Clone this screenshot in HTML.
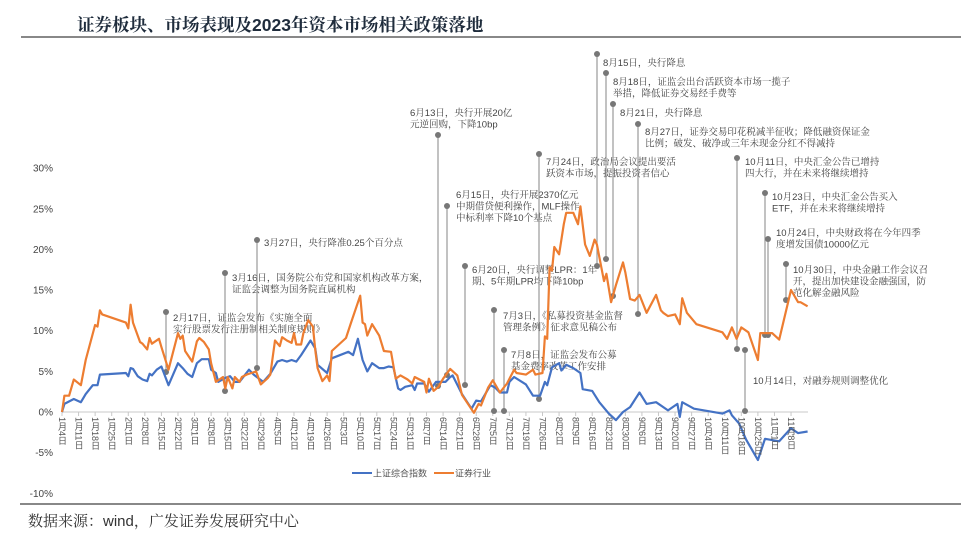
<!DOCTYPE html>
<html><head><meta charset="utf-8">
<style>
html,body{margin:0;padding:0;background:#fff;}
body{width:961px;height:538px;position:relative;overflow:hidden;font-family:"Liberation Sans","Noto Sans CJK SC",sans-serif;}
#title{position:absolute;left:77px;top:12px;font-family:"Liberation Sans","Noto Serif CJK SC",serif;font-weight:700;font-size:17.5px;color:#1f2c3c;letter-spacing:0px;white-space:nowrap;}
.rule{position:absolute;height:2px;background:#888;}
#source{position:absolute;left:28px;top:510px;font-family:"Liberation Sans","Noto Serif CJK SC",serif;font-size:15px;color:#333;white-space:nowrap;}
.xl{position:absolute;top:417px;writing-mode:vertical-rl;text-orientation:mixed;font-size:9px;line-height:10px;color:#555;font-family:"Liberation Sans","Noto Sans CJK SC",sans-serif;}
</style></head>
<body>
<div id="title">证券板块、市场表现及2023年资本市场相关政策落地</div>
<div class="rule" style="left:21px;top:36px;width:940px;"></div>
<div class="rule" style="left:20px;top:503px;width:941px;"></div>
<div id="source">数据来源：wind，广发证券发展研究中心</div>
<svg id="chart" width="961" height="538" style="position:absolute;left:0;top:0"></svg>
<div id="xlabels"></div>
<script>
const yTicks=[30,25,20,15,10,5,0,-5,-10];
const tickLabels=["1月4日","1月11日","1月18日","1月25日","2月1日","2月8日","2月15日","2月22日","3月1日","3月8日","3月15日","3月22日","3月29日","4月5日","4月12日","4月19日","4月26日","5月3日","5月10日","5月17日","5月24日","5月31日","6月7日","6月14日","6月21日","6月28日","7月5日","7月12日","7月19日","7月26日","8月2日","8月9日","8月16日","8月23日","8月30日","9月6日","9月13日","9月20日","9月27日","10月4日","10月11日","10月18日","10月25日","11月1日","11月8日"];
const secDays=[0,1,3,5,8,10,14,15,16,17,27,28,29,30,33,34,36,37,38,41,42,45,49,50,51,52,55,57,58,60,62,63,65,68,69,70,72,73,75,76,78,80,82,84,87,88,90,92,93,95,97,98,99,101,102,104,106,107,108,110,112,113,114,120,122,126,127,128,129,131,134,136,139,141,143,146,148,149,153,154,155,157,159,161,164,167,169,174,176,177,180,182,185,188,191,192,196,199,200,203,204,205,206,207,208,210,212,213,216,218,219,221,223,225,226,229,230,232,234,237,238,240,242,244,247,251,253,254,256,259,261,262,264,268,279,281,283,285,287,290,294,295,300,303,308,311,312,315];
const secVals=[0,2,2,4,3.3,6.4,10.7,10.5,12.5,12,11,10.3,13.2,11,8.6,8.4,7.7,9.1,8.4,9,8,5.2,9.7,9,9.4,7.5,6.2,8.7,9.1,8.6,7.7,6,3.7,4.3,2.9,4.3,2.9,4.3,3.7,4.3,4.6,4.8,5,3.4,4.2,4.6,8.8,8.1,9.2,8.8,8.5,9.7,8.3,8.3,9.7,11.3,10.5,7.6,5.4,3.8,4.5,3.8,7.5,9.1,10.9,14.3,11,10.8,9.4,10.8,9.4,7.5,7.4,4.1,4.5,4,3.5,4.3,3.7,2.4,4.1,2.6,3.1,4.1,5.3,4.5,2.1,-0.1,1,0.8,3,3.9,2.4,3.5,5.2,4.8,4.6,5.2,4.6,4.8,9.3,9,17.8,17.4,20.3,19.4,23.1,24.5,24.5,23.1,25.3,20.6,19.2,21.2,20.6,16.1,17,13.5,15.6,18.4,17.2,13.9,13.7,14.4,12.2,14.4,12.5,12.2,11.8,12,10.8,14,12.2,10.8,9.8,9,10.4,9,10.4,9.8,6.4,9.7,9.7,8.9,15,13.5,13.5,13];
const shDays=[0,1,5,8,10,13,15,16,27,28,29,30,32,34,36,37,38,40,42,45,49,51,53,55,57,59,62,63,65,66,69,71,73,75,79,81,85,88,91,93,95,97,99,101,105,107,108,112,114,121,123,125,127,129,131,134,136,138,140,142,143,145,148,149,150,153,155,158,162,164,165,169,173,175,177,181,183,185,188,189,191,196,199,202,204,205,207,210,211,213,216,219,220,224,227,231,234,237,240,244,247,251,256,260,261,262,267,279,282,283,286,289,294,297,303,308,311,315];
const shVals=[0,1,1.6,1.2,2.2,3.3,3.3,4.6,4.8,4.4,5.4,5.3,4.4,4,3.8,4.7,4.5,5.2,5.6,3.3,6,5.4,4.7,4.3,6,6.5,6.5,5.2,4.8,3.7,4.2,4.4,3.7,3.7,5.2,4.6,3.7,4.7,6.2,6.4,6.2,6.4,6.2,7,8.8,7.8,5.8,4.8,6.6,7.4,7,9,6.4,5,6,5.4,5.4,5.6,5.5,2.9,2.7,3.1,3.3,2.7,3.5,3.5,2.5,3.7,3.7,4.3,4.5,2.2,0.4,1.4,1.3,3.3,3,2.4,2.4,3.7,4.3,3.4,2,2,3.7,3.3,5.5,6,5.1,5.8,5.4,4.8,2.8,2.6,1.2,-0.2,-1,0,0.6,2.4,1,1.2,0.2,1,-0.6,1.2,0.4,-0.2,0.2,-0.4,-1.4,-3.4,-5.9,-3.3,-3.6,-2,-2.6,-2.4];

const NS="http://www.w3.org/2000/svg";
const svg=document.getElementById('chart');
const xPx=d=>62+d*2.367;
const yPx=v=>412-v*8.13;
function mk(tag,attrs,parent){const e=document.createElementNS(NS,tag);for(const k in attrs)e.setAttribute(k,attrs[k]);(parent||svg).appendChild(e);return e;}

yTicks.forEach(t=>{
  const tx=mk('text',{x:53,y:yPx(t)+3.5,'text-anchor':'end','font-size':'10','fill':'#444','font-family':'Liberation Sans, sans-serif'});
  tx.textContent=t+'%';
  
  
});
const ax=mk('line',{x1:62,x2:808,y1:412,y2:412,stroke:'#c8c8c8','stroke-width':1});


const xl=document.getElementById('xlabels');
tickLabels.forEach((lab,i)=>{
  const x=xPx(i*7);
  const tk=mk('line',{x1:x,x2:x,y1:412,y2:416,stroke:'#c8c8c8','stroke-width':1});
  
  
  const d=document.createElement('div');
  d.className='xl';d.style.left=(x-5)+'px';d.textContent=lab;
  
  
  xl.appendChild(d);
});

function series(days,vals,color,name){
  const p=days.map((d,i)=>(i?'L':'M')+xPx(d).toFixed(1)+','+yPx(vals[i]).toFixed(1)).join('');
  const e=mk('path',{d:p,fill:'none',stroke:color,'stroke-width':2.2,'stroke-linejoin':'round'});
  
  
}

const ann=[
 [166,312,372,173,321,["2月17日，证监会发布《实施全面","实行股票发行注册制相关制度规则》"]],
 [225,273,391,232,281,["3月16日，国务院公布党和国家机构改革方案，","证监会调整为国务院直属机构"]],
 [257,240,368,264,246,["3月27日，央行降准0.25个百分点"]],
 [438,135,386,410,116,["6月13日，央行开展20亿","元逆回购，下降10bp"]],
 [447,206,375,456,198,["6月15日，央行开展2370亿元","中期借贷便利操作，MLF操作","中标利率下降10个基点"]],
 [465,266,385,472,273,["6月20日，央行调整LPR：1年","期、5年期LPR均下降10bp"]],
 [494,310,411,503,319,["7月3日，《私募投资基金监督","管理条例》征求意见稿公布"]],
 [504,350,411,511,358,["7月8日，证监会发布公募","基金费率改革工作安排"]],
 [539,154,399,546,165,["7月24日，政治局会议提出要活","跃资本市场，提振投资者信心"]],
 [597,54,266,603,66,["8月15日，央行降息"]],
 [606,73,259,613,85,["8月18日，证监会出台活跃资本市场一揽子","举措，降低证券交易经手费等"]],
 [613,104,296,620,116,["8月21日，央行降息"]],
 [638,124,314,645,135,["8月27日，证券交易印花税减半征收；降低融资保证金","比例；破发、破净或三年未现金分红不得减持"]],
 [737,158,349,745,165,["10月11日，中央汇金公告已增持","四大行，并在未来将继续增持"]],
 [745,350,411,753,384,["10月14日，对融券规则调整优化"]],
 [765,193,335,772,200,["10月23日，中央汇金公告买入","ETF，并在未来将继续增持"]],
 [768,239,335,776,236,["10月24日，中央财政将在今年四季","度增发国债10000亿元"]],
 [786,264,300,793,273,["10月30日，中央金融工作会议召","开，提出加快建设金融强国，防","范化解金融风险"]]
];
ann.forEach(a=>{
  const g=mk('g',{});
  
  
  mk('line',{x1:a[0],x2:a[0],y1:a[1],y2:a[2],stroke:'#999','stroke-width':1.2},g);
  mk('circle',{cx:a[0],cy:a[1],r:3,fill:'#777'},g);
  mk('circle',{cx:a[0],cy:a[2],r:3,fill:'#777'},g);
  a[5].forEach((t,i)=>{
    const tx=mk('text',{x:a[3],y:a[4]+i*11.5,'font-size':'9.5','fill':'#444','font-family':'Liberation Sans, Noto Serif CJK SC, serif'},g);
    tx.textContent=t;
  });
});

series(shDays,shVals,'#4472c4','series-shanghai-composite');
series(secDays,secVals,'#ed7d31','series-securities-industry');

const lg=mk('g',{});


mk('line',{x1:352,x2:372,y1:473,y2:473,stroke:'#4472c4','stroke-width':2},lg);
const l1=mk('text',{x:373,y:476.5,'font-size':'9','fill':'#555'},lg);l1.textContent='上证综合指数';


mk('line',{x1:434,x2:454,y1:473,y2:473,stroke:'#ed7d31','stroke-width':2},lg);
const l2=mk('text',{x:455,y:476.5,'font-size':'9','fill':'#555'},lg);l2.textContent='证券行业';


</script>
</body></html>
